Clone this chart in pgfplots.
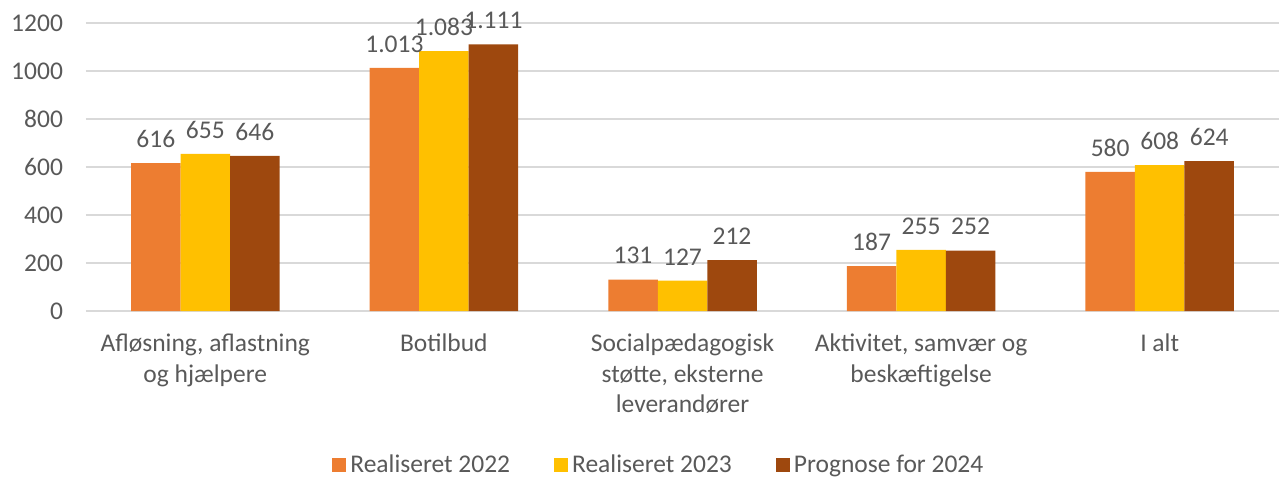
\documentclass[border=0pt]{standalone}
\usepackage{fontspec}
\setmainfont{Carlito}
\usepackage{pgfplots}
\pgfplotsset{compat=1.18}

\definecolor{cA}{HTML}{ED7D31}
\definecolor{cB}{HTML}{FFC000}
\definecolor{cC}{HTML}{9E480E}
\definecolor{txt}{HTML}{595959}
\definecolor{gridc}{HTML}{D9D9D9}

\newcommand{\lblfont}{\fontsize{12.75}{15.3}\selectfont}

\begin{document}
\begin{tikzpicture}
\begin{axis}[
    width=596.5pt, height=144pt, scale only axis,
    ybar=0pt, bar width=24.75pt,
    ymin=0, ymax=1200, ytick={0,200,...,1200},
    xmin=-0.5, xmax=4.5, xtick={0,1,2,3,4},
    xticklabels={{Afløsning, aflastning\\og hjælpere},
                 {Botilbud},
                 {Socialpædagogisk\\støtte, eksterne\\leverandører},
                 {Aktivitet, samvær og\\beskæftigelse},
                 {I alt}},
    axis line style={draw=none},
    major tick length=0pt,
    ymajorgrids,
    grid style={draw=gridc, line width=0.75pt},
    tick label style={font=\lblfont, text=txt},
    y tick label style={/pgf/number format/assume math mode=true,
        /pgf/number format/1000 sep={}, xshift=-8pt},
    x tick label style={align=center, yshift=-8pt},
    /pgf/number format/1000 sep={.},
    nodes near coords,
    every node near coord/.append style={font=\lblfont, text=txt,
        /pgf/number format/assume math mode=true, inner sep=0pt, yshift=7.5pt},
    legend style={at={(0.481,-0.535)}, anchor=center, draw=none,
        font=\lblfont, text=txt, legend columns=3,
        /tikz/every even column/.append style={column sep=20pt}},
    legend image code/.code={\fill[#1] (0pt,-3.5pt) rectangle (7pt,3.5pt);},
]
\addplot[fill=cA, draw=none] coordinates {(0,616) (1,1013) (2,131) (3,187) (4,580)};
\addplot[fill=cB, draw=none] coordinates {(0,655) (1,1083) (2,127) (3,255) (4,608)};
\addplot[fill=cC, draw=none] coordinates {(0,646) (1,1111) (2,212) (3,252) (4,624)};
\legend{Realiseret 2022, Realiseret 2023, Prognose for 2024}
\end{axis}
\pgfresetboundingbox
\path ([shift={(-43pt,-83pt)}]current axis.south west) rectangle ([shift={(0pt,11.5pt)}]current axis.north east);
\end{tikzpicture}
\end{document}
